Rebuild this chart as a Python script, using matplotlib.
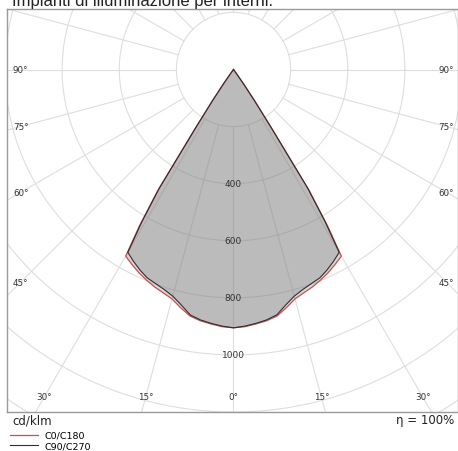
import numpy as np
import matplotlib
matplotlib.use("Agg")
import matplotlib.pyplot as plt

# luminous intensity (cd/klm) against gamma angle (deg from nadir)
gamma = [0, 2.5, 5, 7.5, 10, 12.5, 15, 17.5, 20, 22.5, 25, 27.5, 30,
         31, 32, 33, 34, 35, 36, 37, 90]
c0_c180 = [905, 902, 895, 888, 877, 855, 832, 820, 810, 798, 785, 770, 755,
           640, 500, 245, 132, 60, 15, 0, 0]
c90_c270 = [905, 900, 893, 885, 873, 845, 822, 808, 798, 790, 775, 758, 740,
            625, 490, 235, 128, 58, 14, 0, 0]

ring_values = [400, 600, 800, 1000]
angle_labels = [0, 15, 30, 45, 60, 75, 90]

title = "Impianti di illuminazione per interni."
unit_label = "cd/klm"
eta_label = "\u03b7 = 100%"


def to_xy(g, val):
    g = np.radians(np.asarray(g, dtype=float))
    val = np.asarray(val, dtype=float)
    return val * np.sin(g), -val * np.cos(g)


def full_curve(g, val):
    g = np.asarray(g, dtype=float)
    val = np.asarray(val, dtype=float)
    gg = np.concatenate([-g[::-1], g[1:]])
    vv = np.concatenate([val[::-1], val[1:]])
    return to_xy(gg, vv)


fig = plt.figure(figsize=(4.58, 4.52), dpi=100)
ax = fig.add_axes([7 / 458, 38.7 / 452, 451 / 458, 403.3 / 452])
ax.set_xlim(-793, 786)
ax.set_ylim(-1201, 212)
ax.set_xticks([])
ax.set_yticks([])
for s in ax.spines.values():
    s.set_color("#9a9a9a")
    s.set_linewidth(1.0)

grid_col = "#dedede"
t = np.linspace(0, 2 * np.pi, 400)
for r in range(200, 1800, 200):
    ax.plot(r * np.cos(t), r * np.sin(t), color=grid_col, lw=0.8, zorder=1)
for a in range(0, 360, 15):
    xs, ys = to_xy([a, a], [200, 3000])
    ax.plot(xs, ys, color=grid_col, lw=0.8, zorder=1)

xr, yr = full_curve(gamma, c0_c180)
xb, yb = full_curve(gamma, c90_c270)
ax.fill(xr, yr, color="#808080", alpha=0.3, lw=0, zorder=2)
ax.fill(xb, yb, color="#808080", alpha=0.33, lw=0, zorder=2)
red_line, = ax.plot(xr, yr, color="#d24a4a", lw=0.9, zorder=3, label="C0/C180")
blk_line, = ax.plot(xb, yb, color="#2e2e2e", lw=0.8, zorder=4, label="C90/C270")

for r in ring_values:
    ax.text(0, -r, str(r), ha="center", va="center", fontsize=6.5,
            color="#333333", zorder=5)

# angle labels where each spoke meets an inner rectangle
side_x, bottom_y = 745, -1147
for a in angle_labels:
    if a == 0:
        ax.text(0, bottom_y, "0\u00b0", ha="center", va="center", fontsize=6.3, color="#333333")
        continue
    tan_a = np.tan(np.radians(a)) if a < 90 else np.inf
    if side_x / tan_a > -bottom_y:
        px, py = -bottom_y * tan_a, bottom_y
    else:
        px, py = side_x, -side_x / tan_a
    for sgn in (-1, 1):
        ax.text(sgn * px, py, f"{a}\u00b0", ha="center", va="center",
                fontsize=6.3, color="#333333")

fig.text(12 / 458, 1 - 6 / 452, title, ha="left", va="baseline",
         fontsize=12, family="Liberation Sans", color="#222222")
fig.text(12 / 458, 1 - 421 / 452, unit_label, ha="left", va="center",
         fontsize=8.5, color="#222222")
fig.text(454 / 458, 1 - 421 / 452, eta_label, ha="right", va="center",
         fontsize=8.5, color="#222222")

fig.legend(handles=[red_line, blk_line], loc="upper left",
           bbox_to_anchor=(10 / 458, 1 - 432 / 452), frameon=False,
           fontsize=6.8, handlelength=3.0, handletextpad=0.7,
           labelspacing=0.15, borderpad=0, borderaxespad=0)

fig.savefig("out.png", dpi=100)
